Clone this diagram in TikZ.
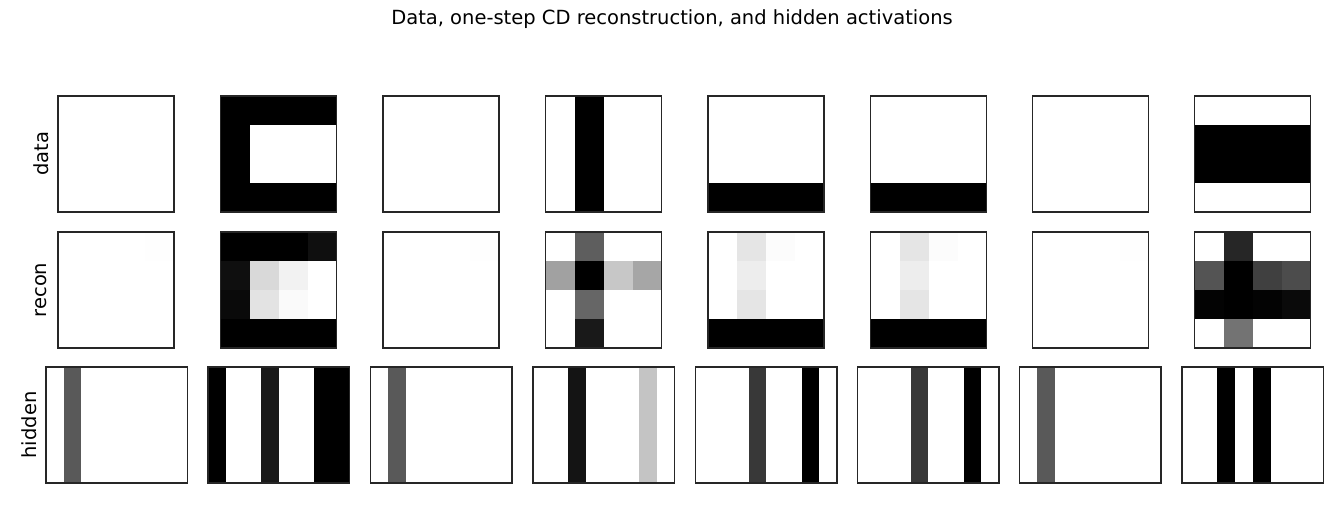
\documentclass[tikz,border=0pt]{standalone}
\usepackage{fontspec}
\setmainfont{DejaVu Sans}
\begin{document}
\begin{tikzpicture}[x=1pt, y=-1pt,
  frame/.style={draw=black!85, line width=1.2pt},
  lbl/.style={font=\fontsize{19.5}{22}\selectfont, rotate=90}
]
% 4x4 image: #1,#2 top left corner, #3 list of white levels (row by row)
\newcommand{\visimg}[3]{%
  \foreach \v [count=\i from 0] in {#3} {
    \pgfmathtruncatemacro{\r}{int(\i/4)}
    \pgfmathtruncatemacro{\c}{mod(\i,4)}
    \pgfmathsetmacro{\k}{(1-\v)*100}
    \fill[black!\k] (#1+\c*29,#2+\r*29) rectangle ++(29.2,29.2);
  }
  \draw[frame] (#1,#2) rectangle ++(116,116);
}
% 1x8 hidden strip: #1 left edge, #2 list of white levels
\newcommand{\hidimg}[2]{%
  \foreach \v [count=\i from 0] in {#2} {
    \pgfmathsetmacro{\k}{(1-\v)*100}
    \fill[black!\k] (#1+\i*17.7,367) rectangle ++(17.9,116);
  }
  \draw[frame] (#1,367) rectangle ++(141.5,116);
}
\useasboundingbox (0,0) rectangle (1344,504);
\node[font=\fontsize{19.5}{22}\selectfont] (title) at (672,19) {Data, one-step CD reconstruction, and hidden activations};
\node[lbl] (ldata) at (41,154) {data};
\node[lbl] (lrecon) at (41,290) {recon};
\node[lbl] (lhidden) at (29,425) {hidden};

% data row
\visimg{58}{96}{1,1,1,1, 1,1,1,1, 1,1,1,1, 1,1,1,1}
\visimg{220.5}{96}{0,0,0,0, 0,1,1,1, 0,1,1,1, 0,0,0,0}
\visimg{383}{96}{1,1,1,1, 1,1,1,1, 1,1,1,1, 1,1,1,1}
\visimg{545.5}{96}{1,0,1,1, 1,0,1,1, 1,0,1,1, 1,0,1,1}
\visimg{708}{96}{1,1,1,1, 1,1,1,1, 1,1,1,1, 0,0,0,0}
\visimg{870.5}{96}{1,1,1,1, 1,1,1,1, 1,1,1,1, 0,0,0,0}
\visimg{1032.5}{96}{1,1,1,1, 1,1,1,1, 1,1,1,1, 1,1,1,1}
\visimg{1194.5}{96}{1,1,1,1, 0,0,0,0, 0,0,0,0, 1,1,1,1}

% recon row
\visimg{58}{232}{1,1,1,0.996, 1,1,1,1, 1,1,1,1, 1,1,1,1}
\visimg{220.5}{232}{0,0,0,0.06, 0.06,0.85,0.95,1, 0.04,0.89,0.98,1, 0,0,0,0}
\visimg{383}{232}{1,1,1,0.996, 1,1,1,1, 1,1,1,1, 1,1,1,1}
\visimg{545.5}{232}{1,0.37,1,1, 0.63,0,0.78,0.65, 1,0.4,1,1, 1,0.1,1,1}
\visimg{708}{232}{1,0.9,0.99,1, 1,0.93,1,1, 1,0.9,1,1, 0,0,0,0}
\visimg{870.5}{232}{1,0.9,0.99,1, 1,0.93,1,1, 1,0.9,1,1, 0,0,0,0}
\visimg{1032.5}{232}{1,1,1,0.996, 1,1,1,1, 1,1,1,1, 1,1,1,1}
\visimg{1194.5}{232}{1,0.15,1,1, 0.33,0,0.25,0.3, 0.01,0,0.01,0.04, 1,0.45,1,1}

% hidden row
\hidimg{46}{1,0.35,1,1,1,1,1,1}
\hidimg{208}{0,1,1,0.1,1,1,0,0}
\hidimg{370.5}{1,0.35,1,1,1,1,1,1}
\hidimg{533}{1,1,0.08,1,1,1,0.77,1}
\hidimg{695.5}{1,1,1,0.22,1,1,0,1}
\hidimg{857.5}{1,1,1,0.22,1,1,0,1}
\hidimg{1019.5}{1,0.35,1,1,1,1,1,1}
\hidimg{1182}{1,1,0,1,0,1,1,1}
\end{tikzpicture}
\end{document}
